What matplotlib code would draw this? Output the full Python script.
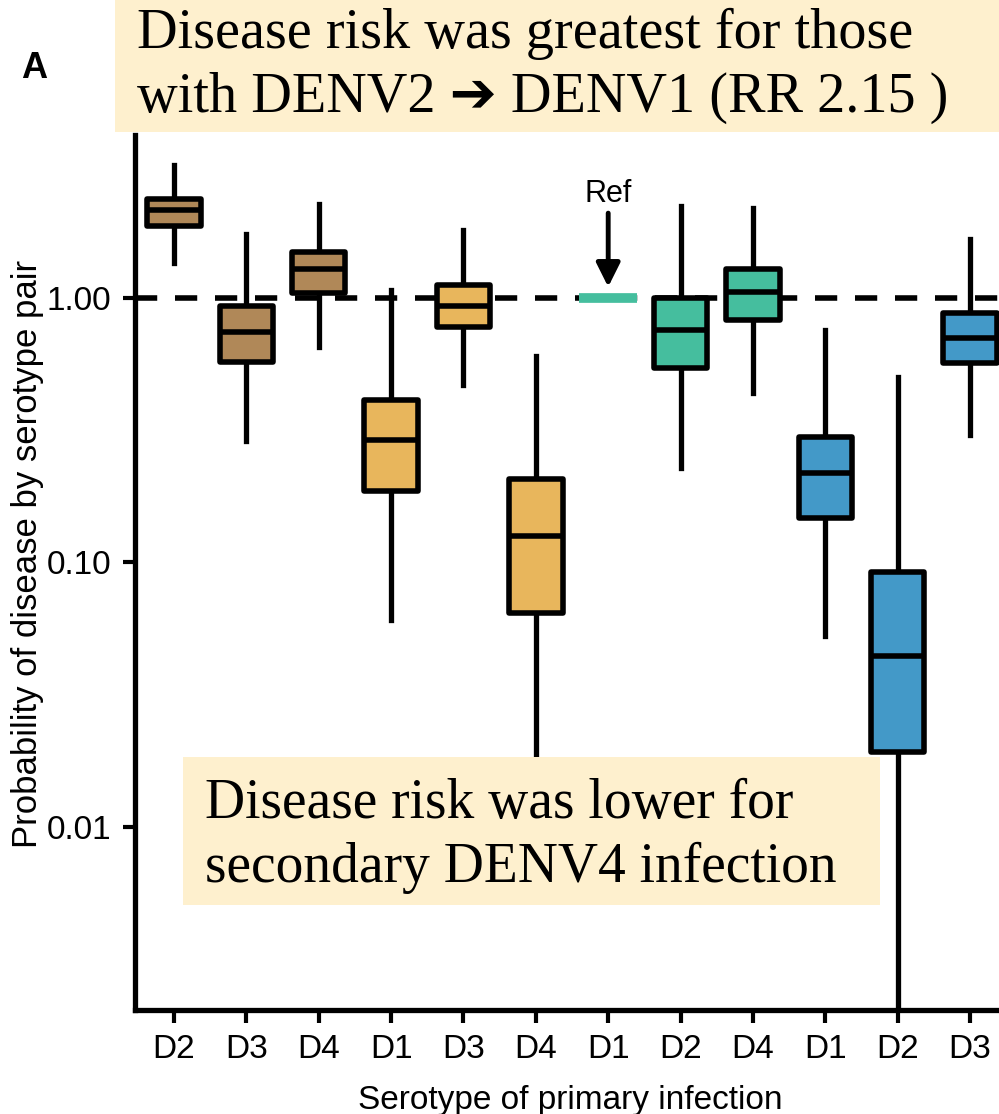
import matplotlib
matplotlib.use('Agg')
import matplotlib.pyplot as plt
from matplotlib.patches import Rectangle

plt.rcParams['font.family'] = ['Liberation Sans', 'DejaVu Sans']

# primary serotype on x, secondary serotype gives the colour group
primary = ['D2', 'D3', 'D4', 'D1', 'D3', 'D4', 'D1', 'D2', 'D4', 'D1', 'D2', 'D3']
secondary = ['D1', 'D1', 'D1', 'D2', 'D2', 'D2', 'D3', 'D3', 'D3', 'D4', 'D4', 'D4']
group_colors = {'D1': '#B08858', 'D2': '#E8B65C', 'D3': '#45BE9E', 'D4': '#4399C8'}

# posterior summaries (None = reference pair, fixed at 1)
whishi = [3.18, 1.75, 2.27, 1.07, 1.81, 0.604, None, 2.23, 2.19, 0.757, 0.503, 1.67]
q3 = [2.37, 0.93, 1.49, 0.411, 1.12, 0.207, None, 1.0, 1.29, 0.298, 0.092, 0.877]
med = [2.15, 0.744, 1.28, 0.291, 0.933, 0.126, None, 0.757, 1.05, 0.218, 0.0443, 0.706]
q1 = [1.87, 0.573, 1.04, 0.186, 0.777, 0.0644, None, 0.544, 0.826, 0.147, 0.0192, 0.568]
whislo = [1.36, 0.288, 0.653, 0.0607, 0.469, 0.008, None, 0.228, 0.437, 0.0527, 0.001, 0.304]
ref_value = 1.0

fig = plt.figure(figsize=(9.99, 11.14), dpi=100)
ax = fig.add_axes([0.1351, 0.0934, 0.8649, 0.7855])

ref_idx = [i for i, m in enumerate(med) if m is None][0]
stats, positions, colors = [], [], []
for i in range(len(primary)):
    if med[i] is None:
        continue
    stats.append(dict(med=med[i], q1=q1[i], q3=q3[i], whislo=whislo[i], whishi=whishi[i], fliers=[]))
    positions.append(i)
    colors.append(group_colors[secondary[i]])

ax.axhline(ref_value, color='black', lw=4, dashes=(4, 3.2), zorder=1)

bp = ax.bxp(stats, positions=positions, widths=0.74, patch_artist=True, showcaps=False,
            showfliers=False,
            boxprops=dict(linewidth=4, edgecolor='black', joinstyle='round'),
            whiskerprops=dict(linewidth=3.8, color='black'),
            medianprops=dict(linewidth=4, color='black'))
for box, c in zip(bp['boxes'], colors):
    box.set_facecolor(c)
    box.set_zorder(3)
for line in bp['whiskers']:
    line.set_zorder(2)
for line in bp['medians']:
    line.set_zorder(4)

# reference pair
ax.hlines(ref_value, ref_idx - 0.4, ref_idx + 0.4, color=group_colors[secondary[ref_idx]], lw=7, zorder=3)
ax.annotate('Ref', xy=(ref_idx, 1.10), xytext=(ref_idx, 2.47), ha='center', va='center', fontsize=22,
            arrowprops=dict(arrowstyle='-|>,head_length=0.72,head_width=0.36', mutation_scale=20,
                            lw=3.5, color='black', shrinkA=1, shrinkB=0))

ax.set_yscale('log')
ax.set_ylim(0.002033, 4.13)
ax.set_xlim(-0.539, 11.40)
ax.set_xticks(range(len(primary)))
ax.set_xticklabels(primary)
ax.set_yticks([0.01, 0.1, 1.0])
ax.set_yticklabels(['0.01', '0.10', '1.00'])
ax.minorticks_off()
ax.tick_params(axis='both', labelsize=24, length=9, width=3, pad=8)

for s in ['top', 'right']:
    ax.spines[s].set_visible(False)
for s in ['left', 'bottom']:
    ax.spines[s].set_linewidth(3.8)

fig.text(0.028, 0.5027, 'Probability of disease by serotype pair', rotation=90,
         ha='center', va='center', fontsize=25)
fig.text(0.571, 1 - 1109 / 1114, 'Serotype of primary infection', ha='center', va='baseline', fontsize=24)
fig.text(0.034, 1 - 68 / 1114, 'A', ha='center', va='center', fontsize=26, fontweight='bold')

# highlight boxes
box_color = '#FEF0CE'
fig.add_artist(Rectangle((0.1151, 1 - 132 / 1114), 0.8849, 132 / 1114, transform=fig.transFigure,
                         facecolor=box_color, edgecolor='none', zorder=5))
fig.add_artist(Rectangle((183 / 999, 1 - 905 / 1114), 697 / 999, 148 / 1114, transform=fig.transFigure,
                         facecolor=box_color, edgecolor='none', zorder=5))

serif = ['Liberation Serif', 'DejaVu Sans']
top_lines = ['Disease risk was greatest for those', 'with DENV2 \u2794 DENV1 (RR 2.15 )']
for line, yb in zip(top_lines, [48, 112]):
    fig.text(137 / 999, 1 - yb / 1114, line, family=serif, fontsize=40.5, va='baseline', ha='left', zorder=6)
bottom_lines = ['Disease risk was lower for', 'secondary DENV4 infection']
for line, yb in zip(bottom_lines, [818, 882]):
    fig.text(205 / 999, 1 - yb / 1114, line, family=serif, fontsize=40, va='baseline', ha='left', zorder=6)

fig.savefig('out.png', dpi=100)
